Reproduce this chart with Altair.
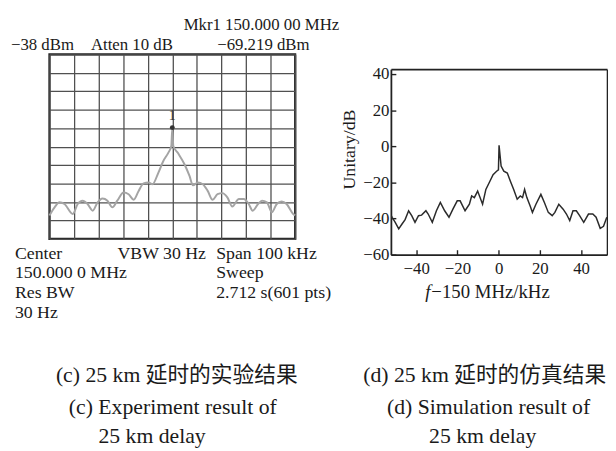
import altair as alt
import pandas as pd

SERIF = "Liberation Serif, Noto Sans CJK SC"

# ---- (c) experiment: spectrum analyser trace (kHz offset from 150 MHz, dBm)
exp_freq = [-50.0, -47.9, -45.9, -43.9, -40.5, -38.5, -36.5, -34.5, -32.4, -30.4,
            -28.4, -26.4, -24.4, -22.4, -19.8, -17.8, -15.7, -13.7, -11.7, -9.7,
            -8.1, -5.7, -3.7, -1.7, -0.4, 0.0, 0.4, 2.3, 5.0, 7.0,
            8.4, 10.4, 12.4, 14.4, 16.4, 18.4, 20.4, 22.4, 24.4, 27.1,
            29.1, 31.1, 32.7, 34.9, 36.5, 38.5, 40.5, 42.5, 44.5, 46.5,
            49.2, 50.0]
exp_level = [-125.3, -120.9, -118.2, -119.1, -124.5, -119.1, -117.3, -119.1, -122.7, -118.2,
             -116.1, -117.3, -120.9, -117.3, -112.9, -113.8, -116.8, -112.0, -107.9, -107.5,
             -108.4, -102.2, -95.9, -91.5, -87.7, -78.0, -87.7, -91.5, -97.7, -103.9,
             -109.0, -107.5, -108.4, -112.0, -116.8, -113.8, -113.2, -115.5, -120.4, -116.4,
             -116.4, -119.1, -122.7, -119.1, -117.3, -118.2, -123.6, -119.1, -117.7, -119.1,
             -124.5, -125.3]
mkr_freq = [0.0]
mkr_level = [-77.7]
mkr_label = ["1"]

# ---- (d) simulation
sim_freq = [-52.2, -51.7, -50.2, -48.5, -46.9, -45.4, -43.7, -42.2, -40.6, -38.9,
            -37.4, -35.3, -34.2, -32.2, -30.2, -28.3, -26.2, -24.1, -22.2, -20.1,
            -18.7, -16.3, -14.2, -13.1, -11.8, -10.2, -7.8, -6.2, -4.6, -2.7,
            -1.0, -0.1, 0.2, 1.2, 2.5, 4.2, 5.7, 7.3, 9.0, 10.5,
            11.6, 12.6, 13.7, 15.3, 16.4, 18.1, 20.5, 22.2, 24.1, 26.0,
            27.3, 29.2, 31.3, 32.9, 34.5, 36.1, 37.7, 39.3, 41.3, 43.6,
            45.7, 47.3, 49.3, 50.9, 52.5]
sim_level = [-38.3, -39.3, -42.1, -45.7, -43.0, -40.6, -35.7, -38.4, -42.1, -38.4,
             -38.1, -35.7, -37.5, -42.1, -35.7, -31.1, -35.7, -39.3, -34.8, -30.2,
             -30.2, -35.7, -32.1, -27.5, -28.4, -24.8, -32.1, -23.9, -20.2, -15.7,
             -13.8, -13.0, 0.5, -10.9, -13.8, -14.8, -19.3, -23.9, -29.3, -27.5,
             -28.4, -23.9, -28.4, -33.0, -36.6, -32.1, -26.6, -31.1, -36.6, -38.4,
             -36.6, -32.1, -34.8, -37.5, -41.1, -35.7, -35.7, -38.4, -42.1, -37.5,
             -37.5, -39.3, -45.4, -44.3, -39.3]
sim_x_ticks = [-40, -20, 0, 20, 40]
sim_y_ticks = [-60, -40, -20, 0, 20, 40]

# ---- texts
hdr_mkr = "Mkr1 150.000 00 MHz"
hdr_ref = "\u221238 dBm"
hdr_att = "Atten 10 dB"
hdr_val = "\u221269.219 dBm"
ftr_left = ["Center", "150.000 0 MHz", "Res BW", "30 Hz"]
ftr_mid = ["VBW 30 Hz"]
ftr_right = ["Span 100 kHz", "Sweep", "2.712 s(601 pts)"]
cap_c = ["(c) 25 km 延时的实验结果", "(c) Experiment  result  of", "25 km  delay"]
cap_d = ["(d) 25 km 延时的仿真结果", "(d) Simulation  result  of", "25 km  delay"]
y_title = "Unitary/dB"
x_title_f = "f"
x_title_rest = "\u2212150 MHz/kHz"


def note(text, x, y, size=18, align="left", style="normal"):
    return alt.Chart(pd.DataFrame({"label": [text]})).mark_text(
        font=SERIF, fontSize=size, align=align, baseline="alphabetic",
        color="#1a1a1a", fontStyle=style
    ).encode(x=alt.value(x), y=alt.value(y), text="label:N")


# ================= left panel =================
exp_df = pd.DataFrame({"f": exp_freq, "v": exp_level})
mkr_df = pd.DataFrame({"f": mkr_freq, "v": mkr_level, "t": mkr_label})

lx = alt.Scale(domain=[-50, 50], nice=False, zero=False)
ly = alt.Scale(domain=[-138, -38], nice=False, zero=False)
grid_axis = dict(grid=True, gridColor="#505050", gridWidth=1.3, gridOpacity=1, tickCount=20,
                 labels=False, ticks=False, domain=False, title=None)

trace = alt.Chart(exp_df).mark_line(color="#a4a4a4", strokeWidth=2, interpolate="monotone").encode(
    x=alt.X("f:Q", scale=lx, axis=alt.Axis(values=list(range(-50, 51, 10)), **grid_axis)),
    y=alt.Y("v:Q", scale=ly, axis=alt.Axis(values=list(range(-138, -37, 10)), **grid_axis)),
)
mkr = alt.Chart(mkr_df).mark_point(filled=True, size=24, color="#333333", opacity=1).encode(
    x=alt.X("f:Q", scale=lx), y=alt.Y("v:Q", scale=ly))
mkr_txt = alt.Chart(mkr_df).mark_text(font=SERIF, fontSize=14, dy=-12, color="#333333").encode(
    x=alt.X("f:Q", scale=lx), y=alt.Y("v:Q", scale=ly), text="t:N")

left_notes = [
    note(hdr_mkr, 136, -25, size=17),
    note(hdr_ref, -39, -4, size=17),
    note(hdr_att, 42, -4, size=17),
    note(hdr_val, 170, -4, size=17),
]
for i, t in enumerate(ftr_left):
    left_notes.append(note(t, -35, 207 + 20 * i))
for i, t in enumerate(ftr_mid):
    left_notes.append(note(t, 69, 207 + 20 * i))
for i, t in enumerate(ftr_right):
    left_notes.append(note(t, 169, 207 + 20 * i))
cap_y = [332, 364, 394]
cap_cx = [129, 125, 104]
cap_dx = [441, 445, 439]
for i in range(3):
    left_notes.append(note(cap_c[i], cap_cx[i], cap_y[i], size=22, align="center"))
    left_notes.append(note(cap_d[i], cap_dx[i], cap_y[i], size=22, align="center"))

left = alt.layer(trace, mkr, mkr_txt, *left_notes).properties(
    width=249, height=187,
    view=alt.ViewBackground(stroke="#222222", strokeWidth=2.2),
)

# ================= right panel =================
sim_df = pd.DataFrame({"f": sim_freq, "v": sim_level})
RW, RH, RTOP = 219, 203, 15
rx = alt.Scale(domain=[-52.3, 52.6], nice=False, zero=False)
ry = alt.Scale(domain=[-60, 42.7], nice=False, zero=False, range=[RH, RTOP])

axis_common = dict(domainColor="#222222", domainWidth=1.8, grid=False,
                   labelFont=SERIF, labelFontSize=17, labelColor="#1a1a1a")

main = alt.Chart(sim_df).mark_line(color="#2b2b2b", strokeWidth=1.5, clip=True).encode(
    x=alt.X("f:Q", scale=rx, axis=alt.Axis(
        orient="bottom", values=sim_x_ticks, ticks=False, tickSize=0, labelPadding=6,
        title=None, **axis_common)),
    y=alt.Y("v:Q", scale=ry, axis=alt.Axis(
        orient="left", values=sim_y_ticks, ticks=False, tickSize=0, labelPadding=2,
        title=y_title, titleFont=SERIF, titleFontSize=18, titleFontWeight="normal",
        titleColor="#1a1a1a", titleX=-37, titleY=96, titleAngle=270,
        titleBaseline="alphabetic", titleAlign="center", **axis_common)),
)
inward = alt.Chart(sim_df).mark_line(strokeOpacity=0).encode(
    x=alt.X("f:Q", scale=rx, axis=alt.Axis(
        orient="top", offset=-RH, values=sim_x_ticks, labels=False, domain=False,
        ticks=True, tickSize=5, tickWidth=1.4, tickColor="#222222", grid=False, title=None)),
    y=alt.Y("v:Q", scale=ry, axis=alt.Axis(
        orient="right", offset=-RW, values=sim_y_ticks, labels=False, domain=False,
        ticks=True, tickSize=5, tickWidth=1.4, tickColor="#222222", grid=False, title=None)),
)
frame = alt.Chart(sim_df).mark_line(strokeOpacity=0).encode(
    x=alt.X("f:Q", scale=rx, axis=alt.Axis(
        orient="top", offset=-RTOP, labels=False, ticks=False, grid=False, title=None,
        domainColor="#222222", domainWidth=1.6)),
    y=alt.Y("v:Q", scale=ry, axis=alt.Axis(
        orient="right", labels=False, ticks=False, grid=False, title=None,
        domainColor="#222222", domainWidth=1.6)),
)
right_notes = [
    note(x_title_f, 40, 247, size=19, align="right", style="italic"),
    note(x_title_rest, 41, 247, size=19),
]

right = alt.layer(main, inward, frame, *right_notes).resolve_axis(
    x="independent", y="independent"
).properties(
    width=RW, height=RH,
    view=alt.ViewBackground(stroke="transparent"),
)

chart = alt.hconcat(left, right, spacing=97, bounds="flush").properties(
    padding={"left": 1, "top": 3, "right": 0, "bottom": 0},
    background="white",
).configure(font=SERIF)

chart.save("out.html", embed_options={"renderer": "svg", "actions": False})
